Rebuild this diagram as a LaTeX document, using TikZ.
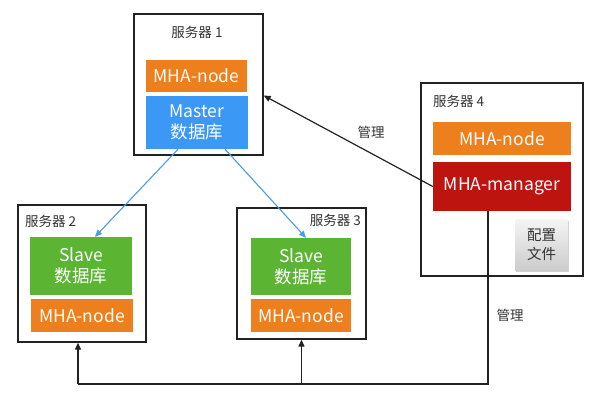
\documentclass[tikz,border=0pt]{standalone}
\usepackage{fontspec}
\setmainfont{Noto Sans CJK SC}
\usetikzlibrary{arrows.meta,shadows,calc}
\definecolor{cOrange}{HTML}{EE7F1D}
\definecolor{cBlue}{HTML}{3B98F5}
\definecolor{cGreen}{HTML}{5BB533}
\definecolor{cRed}{HTML}{BE1410}
\definecolor{cText}{HTML}{333333}
\definecolor{cLine}{HTML}{222222}
\definecolor{cArrowBlue}{HTML}{4A9BEA}
\tikzset{
  server/.style={draw=cLine, line width=1.3pt, fill=white, inner sep=0pt},
  lbl/.style={text=cText, font=\fontsize{13.5}{15}\selectfont, inner sep=0pt},
  comp/.style={inner sep=0pt, text=white, align=center, font=\fontsize{17.5}{21}\selectfont},
  cfgbox/.style={inner sep=0pt, top color=gray!8, bottom color=gray!40, text=cText, align=center,
     font=\fontsize{14.5}{19}\selectfont, drop shadow={opacity=0.35, shadow xshift=1pt, shadow yshift=-2pt}},
  blk/.style={draw=cLine, line width=1.2pt, -{Triangle[length=7pt,width=6pt]}},
  plain/.style={draw=cLine, line width=1.2pt},
  blu/.style={draw=cArrowBlue, line width=1.1pt, -{Triangle[length=7pt,width=6pt]}}
}
\begin{document}
\begin{tikzpicture}[x=1pt,y=-1pt]
\useasboundingbox (0,0) rectangle (600,400);
% server 1
\node[server, minimum width=129pt, minimum height=141pt] (s1) at (198.5,84.5) {};
\node[lbl] (s1l) at (197,32) {服务器 1};
\node[comp, fill=cOrange, minimum width=101pt, minimum height=32pt] (n1) at (196.5,76) {MHA-node};
\node[comp, fill=cBlue, minimum width=102pt, minimum height=53pt] (master) at (197,122.5) {Master\\数据库};
% server 2
\node[server, minimum width=128pt, minimum height=137pt] (s2) at (82,273.5) {};
\node[lbl, anchor=west] (s2l) at (25,221) {服务器 2};
\node[comp, fill=cGreen, minimum width=102pt, minimum height=58pt] (slave2) at (81,266) {Slave\\数据库};
\node[comp, fill=cOrange, minimum width=102pt, minimum height=33pt] (n2) at (82,315.5) {MHA-node};
% server 3
\node[server, minimum width=129pt, minimum height=131pt] (s3) at (301.5,273.5) {};
\node[lbl, anchor=east] (s3l) at (361,220) {服务器 3};
\node[comp, fill=cGreen, minimum width=100pt, minimum height=57pt] (slave3) at (301,266.5) {Slave\\数据库};
\node[comp, fill=cOrange, minimum width=100pt, minimum height=33pt] (n3) at (301,315.5) {MHA-node};
% server 4
\node[server, minimum width=162pt, minimum height=193pt] (s4) at (502,179.5) {};
\node[lbl, anchor=west] (s4l) at (433,101) {服务器 4};
\node[comp, fill=cOrange, minimum width=138pt, minimum height=33pt] (n4) at (502,138.5) {MHA-node};
\node[comp, fill=cRed, minimum width=138pt, minimum height=49pt] (mgr) at (502,186.5) {MHA-manager};
\node[cfgbox, minimum width=53pt, minimum height=51pt] (cfg) at (541.5,244.5) {配置\\文件};
% replication arrows
\draw[blu] ([xshift=-19pt]master.south) -- ([xshift=14pt]slave2.north);
\draw[blu] ([xshift=28pt]master.south) -- ([xshift=5pt]slave3.north);
% management arrow to server 1
\draw[blk] (mgr.west) -- ([yshift=-11pt]s1.east);
\node[lbl] (m1) at (371,132) {管理};
% management lines to servers 2,3
\coordinate (br) at (488,384);
\coordinate (bl) at (78,384);
\draw[plain] ([xshift=-14pt]mgr.south) -- (br) -- (bl);
\draw[blk] (bl) -- (bl |- s2.south);
\draw[blk] (s3.south |- br) -- (s3.south);
\node[lbl] (m2) at (510,315) {管理};
\end{tikzpicture}
\end{document}
